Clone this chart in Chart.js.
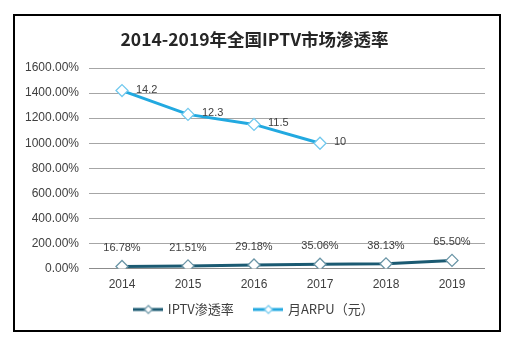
<!DOCTYPE html>
<html>
<head>
<meta charset="utf-8">
<script src="https://cdn.jsdelivr.net/npm/chart.js@4"></script>
<style>
  body { margin: 0; background: #fff; }
  canvas { display: block; }
</style>
</head>
<body>
<canvas id="myChart" width="515" height="340"></canvas>
<script>
// Data

const years = ["2014", "2015", "2016", "2017", "2018", "2019"];
const penetration = [16.78, 21.51, 29.18, 35.06, 38.13, 65.5];
const arpu = [14.2, 12.3, 11.5, 10, null, null];
const yTicks = [0, 200, 400, 600, 800, 1000, 1200, 1400, 1600];

const darkLine = "#1b5a72";
const darkMark = "#6a95a6";
const lightLine = "#22a9e0";
const lightMark = "#72c9ee";

// Legend marker: line with a diamond

function legendMarker(lineColor, markColor) {
  let c = document.createElement("canvas");
  c.width = 30;
  c.height = 12;
  let g = c.getContext("2d");
  g.strokeStyle = lineColor;
  g.lineWidth = 3;
  g.beginPath();
  g.moveTo(0, 6);
  g.lineTo(30, 6);
  g.stroke();
  g.fillStyle = "#fff";
  g.strokeStyle = markColor;
  g.lineWidth = 1.2;
  g.beginPath();
  g.moveTo(15, 2);
  g.lineTo(19, 6);
  g.lineTo(15, 10);
  g.lineTo(11, 6);
  g.closePath();
  g.fill();
  g.stroke();
  return c;
}

// Plugins

const frame = {
  id: "frame",
  beforeDraw(chart) {
    let ctx = chart.ctx;
    ctx.save();
    ctx.fillStyle = "#fff";
    ctx.fillRect(0, 0, chart.width, chart.height);
    ctx.restore();
  },
  afterDraw(chart) {
    let ctx = chart.ctx;
    ctx.save();
    ctx.strokeStyle = "#000";
    ctx.lineWidth = 2;
    ctx.strokeRect(14, 15, 486, 316);
    ctx.restore();
  },
};

const valueLabels = {
  id: "valueLabels",
  afterDatasetsDraw(chart) {
    let ctx = chart.ctx;
    ctx.save();
    ctx.font = "11px 'Liberation Sans', Arial, sans-serif";
    ctx.fillStyle = "#404040";
    let m0 = chart.getDatasetMeta(0);
    ctx.textAlign = "center";
    ctx.textBaseline = "alphabetic";
    m0.data.forEach((pt, i) => {
      ctx.fillText(penetration[i].toFixed(2) + "%", pt.x, pt.y - 15);
    });
    let m1 = chart.getDatasetMeta(1);
    ctx.textAlign = "left";
    ctx.textBaseline = "middle";
    m1.data.forEach((pt, i) => {
      if (arpu[i] === null) return;
      ctx.fillText(String(arpu[i]), pt.x + 14, pt.y - 1);
    });
    ctx.restore();
  },
};

// Chart

const ctx = document.getElementById("myChart").getContext("2d");
const chart = new Chart(ctx, {
  type: "line",
  data: {
    labels: years,
    datasets: [
      {
        label: "IPTV渗透率",
        data: penetration,
        borderColor: darkLine,
        borderWidth: 3,
        pointStyle: "rectRot",
        pointRadius: 6,
        pointBorderWidth: 1.3,
        pointBorderColor: darkMark,
        pointBackgroundColor: "#fff",
        tension: 0,
      },
      {
        label: "月ARPU（元）",
        data: arpu.map(v => (v === null ? null : v * 100)),
        borderColor: lightLine,
        borderWidth: 3,
        pointStyle: "rectRot",
        pointRadius: 6,
        pointBorderWidth: 1.3,
        pointBorderColor: lightMark,
        pointBackgroundColor: "#fff",
        tension: 0,
      },
    ],
  },
  options: {
    responsive: false,
    animation: false,
    layout: { padding: { left: 24, right: 30, top: 16, bottom: 14 } },
    scales: {
      x: {
        offset: true,
        grid: { display: false },
        border: { display: false },
        ticks: {
          color: "#404040",
          padding: 1,
          font: { family: "'Liberation Sans', Arial, sans-serif", size: 12 },
        },
      },
      y: {
        min: 0,
        max: 1600,
        afterBuildTicks(scale) {
          scale.ticks = yTicks.map(v => ({ value: v }));
        },
        afterFit(scale) {
          scale.width = 65;
        },
        grid: {
          color: ctx => (ctx.tick && ctx.tick.value === 0 ? "#8c8c8c" : "#a6a6a6"),
          lineWidth: 1,
          drawTicks: false,
        },
        border: { display: false },
        ticks: {
          color: "#404040",
          padding: 10,
          font: { family: "'Liberation Sans', Arial, sans-serif", size: 12 },
          callback: v => v.toFixed(2) + "%",
        },
      },
    },
    plugins: {
      title: {
        display: true,
        text: "2014-2019年全国IPTV市场渗透率",
        color: "#262626",
        font: { family: "'Noto Sans CJK SC', sans-serif", size: 17.5, weight: "bold" },
        padding: { top: 13, bottom: 18 },
      },
      legend: {
        position: "bottom",
        labels: {
          color: "#404040",
          font: { family: "'Noto Sans CJK SC', sans-serif", size: 13 },
          usePointStyle: true,
          pointStyleWidth: 26,
          padding: 10,
          generateLabels(chart) {
            return [
              { text: "IPTV渗透率    ", pointStyle: legendMarker(darkLine, darkMark), datasetIndex: 0, fontColor: "#404040", lineWidth: 0, strokeStyle: "transparent" },
              { text: "月ARPU（元）", pointStyle: legendMarker(lightLine, lightMark), datasetIndex: 1, fontColor: "#404040", lineWidth: 0, strokeStyle: "transparent" },
            ];
          },
        },
      },
      tooltip: { enabled: false },
    },
  },
  plugins: [frame, valueLabels],
});
</script>
</body>
</html>
